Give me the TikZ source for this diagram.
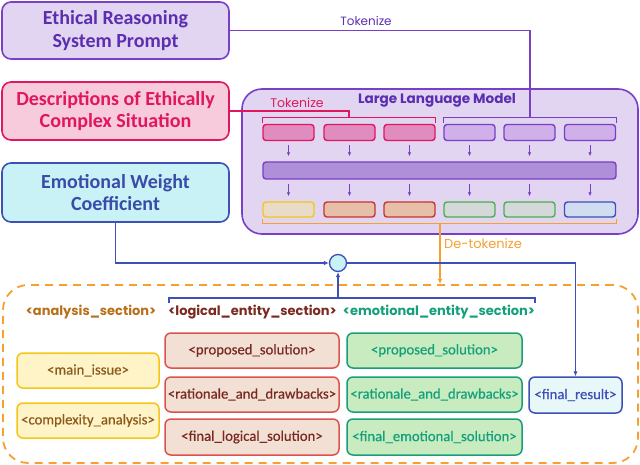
\documentclass[tikz,border=0pt]{standalone}
\usepackage{fontspec}
\setmainfont{Carlito}
\newfontfamily\pop{Poppins}
\newfontfamily\medfont[FakeBold=0.5]{Carlito}
\usetikzlibrary{arrows.meta,calc}
\definecolor{lav}{HTML}{E2D5F2}
\definecolor{purp}{HTML}{7A3FC7}
\definecolor{purptxt}{HTML}{5B2EB0}
\definecolor{pinkfill}{HTML}{F7CADC}
\definecolor{pinkc}{HTML}{E0175F}
\definecolor{cyanfill}{HTML}{C8F2F5}
\definecolor{bluec}{HTML}{3E4FB8}
\definecolor{bluetxt}{HTML}{3B4BA8}
\definecolor{ptok}{HTML}{E08CBF}
\definecolor{vtok}{HTML}{D0B0E8}
\definecolor{barfill}{HTML}{AE8FD8}
\definecolor{yelfill}{HTML}{FFF3C8}
\definecolor{yelc}{HTML}{F5C518}
\definecolor{yeltxt}{HTML}{8B5A1A}
\definecolor{redfill}{HTML}{F2E0D5}
\definecolor{redc}{HTML}{D9534F}
\definecolor{redtxt}{HTML}{7A2A20}
\definecolor{grnfill}{HTML}{C8EBC0}
\definecolor{grnc}{HTML}{1A9E7A}
\definecolor{grntxt}{HTML}{14A07A}
\definecolor{orangec}{HTML}{F5A030}
\definecolor{anatxt}{HTML}{B87018}
\definecolor{frfill}{HTML}{E8F8F8}
\definecolor{b1fill}{HTML}{E8DCC8}
\definecolor{b2fill}{HTML}{E5BFA8}
\definecolor{b2c}{HTML}{CC3333}
\definecolor{b4fill}{HTML}{D5D8D8}
\definecolor{b4c}{HTML}{4CAF50}
\definecolor{b6fill}{HTML}{D0DCF0}
\tikzset{
  bigbox/.style={draw, line width=1.6pt, rounded corners=9pt, minimum width=227pt, align=center,
    font=\bfseries\fontsize{20}{22.5}\selectfont, inner sep=0pt},
  tok/.style={draw, line width=1.4pt, rounded corners=3pt, minimum width=51pt, minimum height=16pt, inner sep=0pt},
  inbox/.style={draw, line width=1.5pt, rounded corners=6pt, minimum height=35pt, inner sep=0pt,
    font=\medfont\fontsize{14.7}{16}\selectfont},
  seclab/.style={font=\pop\bfseries\fontsize{13}{15}\selectfont, inner sep=0pt},
  tinyarrow/.style={purp, line width=1pt, -{Latex[length=4pt,width=3.5pt]}},
  conn/.style={line width=1.4pt},
  tip/.style={-{Latex[length=5pt,width=4.5pt]}}
}
\begin{document}
\begin{tikzpicture}[x=1pt,y=-1pt]
\useasboundingbox (0,0) rectangle (640,465);

% top-left input boxes
\node[bigbox, fill=lav, draw=purp, text=purptxt, minimum height=57pt] (sys) at (115.5,30.5) {Ethical Reasoning\\System Prompt};
\node[bigbox, fill=pinkfill, draw=pinkc, text=pinkc, minimum height=58pt] (desc) at (115.5,111) {Descriptions of Ethically\\Complex Situation};
\node[bigbox, fill=cyanfill, draw=bluec, text=bluetxt, minimum height=59pt] (ewc) at (115.5,192.5) {Emotional Weight\\Coefficient};

% LLM box
\node[draw=purp, fill=lav, line width=1.6pt, rounded corners=20pt, minimum width=396pt, minimum height=145pt, inner sep=0pt] (llm) at (440,161.5) {};
\node[font=\pop\bfseries\fontsize{13.6}{15}\selectfont, text=purptxt, inner sep=0pt] (llmlab) at (437,100) {Large Language Model};

% tokens
\node[tok, fill=ptok, draw=pinkc] (p1) at (288.5,132.5) {};
\node[tok, fill=ptok, draw=pinkc] (p2) at (349.5,132.5) {};
\node[tok, fill=ptok, draw=pinkc] (p3) at (409.5,132.5) {};
\node[tok, fill=vtok, draw=purp] (p4) at (469.5,132.5) {};
\node[tok, fill=vtok, draw=purp] (p5) at (529.5,132.5) {};
\node[tok, fill=vtok, draw=purp] (p6) at (590,132.5) {};
\node[tok, fill=barfill, draw=purp, minimum width=353pt, minimum height=17pt] (bar) at (439.5,170.5) {};
\node[tok, fill=b1fill, draw=yelc, minimum height=15pt] (b1) at (288.5,209.5) {};
\node[tok, fill=b2fill, draw=b2c, minimum height=15pt] (b2) at (349.5,209.5) {};
\node[tok, fill=b2fill, draw=b2c, minimum height=15pt] (b3) at (409.5,209.5) {};
\node[tok, fill=b4fill, draw=b4c, minimum height=15pt] (b4) at (469.5,209.5) {};
\node[tok, fill=b4fill, draw=b4c, minimum height=15pt] (b5) at (529.5,209.5) {};
\node[tok, fill=b6fill, draw=bluec, minimum height=15pt] (b6) at (590,209.5) {};

\foreach \i in {1,...,6}{
  \draw[tinyarrow, shorten <=4pt, shorten >=5pt] (p\i.south) -- (p\i.south |- bar.north);
  \draw[tinyarrow, shorten <=4pt, shorten >=5pt] (p\i.south |- bar.south) -- (b\i.north);
}

% tokenize brackets and connectors
\draw[pinkc, line width=1.2pt] ($(p1.north west)+(0,-1)$) |- ($(p3.north east)+(0,-6)$) -- ($(p3.north east)+(0,-1)$);
\draw[purp, line width=1.2pt] ($(p4.north west)+(0,-1)$) |- ($(p6.north east)+(0,-6)$) -- ($(p6.north east)+(0,-1)$);
\coordinate (pinkT) at (349,118);
\coordinate (purpT) at (530,118);
\draw[pinkc, line width=1.2pt] (desc.east) -| (pinkT);
\draw[purp, line width=1.2pt] (sys.east) -| (purpT);
\node[font=\pop\fontsize{12}{14}\selectfont, text=purptxt, inner sep=0pt] (tk1) at (366,21) {Tokenize};
\node[font=\pop\fontsize{12.5}{14}\selectfont, text=pinkc, inner sep=0pt] (tk2) at (297,103) {Tokenize};

% output section
\node[draw=orangec, line width=1.8pt, dash pattern=on 8pt off 6pt, rounded corners=25pt, minimum width=635pt, minimum height=178pt, inner sep=0pt] (out) at (320.5,374) {};

% de-tokenize
\draw[orangec, line width=1.2pt] ($(b1.south west)+(0,1)$) |- ($(b6.south east)+(0,6)$) -- ($(b6.south east)+(0,1)$);
\coordinate (orT) at (440,223);
\draw[orangec, line width=1.2pt, tip] (orT) -- (orT |- out.north);
\node[font=\pop\fontsize{13}{14}\selectfont, text=orangec, anchor=west, inner sep=0pt] (detok) at (444,244) {De-tokenize};

% combiner circle
\node[circle, draw=bluec, fill=cyanfill, line width=1.3pt, minimum size=17pt, inner sep=0pt] (circ) at (338,263) {};
\draw[bluec, conn, tip] (ewc.south) |- (circ.west);

% final result
\node[inbox, fill=frfill, draw=bluec, text=bluec, minimum width=93pt, minimum height=36pt] (fr) at (575.5,395) {<final\_result>};
\draw[bluec, conn, tip] (circ.east) -| (fr.north);

% blue bracket
\draw[bluec, line width=1.2pt] (169,303) -- (169,298) -- (535,298) -- (535,303);
\coordinate (blT) at (338,298);
\draw[bluec, conn, tip] (blT) -- (circ.south);

% section labels
\node[seclab, text=anatxt] (ana) at (91,312) {<analysis\_section>};
\node[seclab, text=redtxt] (log) at (252.5,312) {<logical\_entity\_section>};
\node[seclab, text=grntxt] (emo) at (439,312) {<emotional\_entity\_section>};

% analysis boxes
\node[inbox, fill=yelfill, draw=yelc, text=yeltxt, minimum width=142pt] (mi) at (88,370.5) {<main\_issue>};
\node[inbox, fill=yelfill, draw=yelc, text=yeltxt, minimum width=142pt] (ca) at (88,420.5) {<complexity\_analysis>};

% logical boxes
\node[inbox, fill=redfill, draw=redc, text=redtxt, minimum width=174pt] (lp) at (252,350.5) {<proposed\_solution>};
\node[inbox, fill=redfill, draw=redc, text=redtxt, minimum width=174pt] (lr) at (252,394.5) {<rationale\_and\_drawbacks>};
\node[inbox, fill=redfill, draw=redc, text=redtxt, minimum width=174pt, minimum height=36pt] (lf) at (252,437) {<final\_logical\_solution>};

% emotional boxes
\node[inbox, fill=grnfill, draw=grnc, text=grntxt, minimum width=175pt] (ep) at (434.5,350.5) {<proposed\_solution>};
\node[inbox, fill=grnfill, draw=grnc, text=grntxt, minimum width=175pt] (er) at (434.5,394.5) {<rationale\_and\_drawbacks>};
\node[inbox, fill=grnfill, draw=grnc, text=grntxt, minimum width=175pt, minimum height=36pt] (ef) at (434.5,437) {<final\_emotional\_solution>};
\end{tikzpicture}
\end{document}
